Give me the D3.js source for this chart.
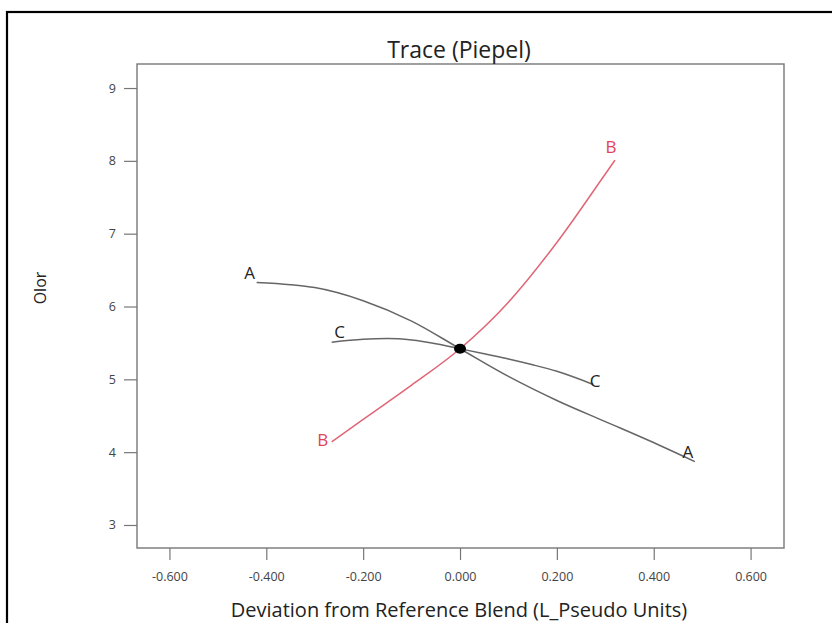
<!DOCTYPE html>
<html>
<head>
<meta charset="utf-8">
<script src="https://cdn.jsdelivr.net/npm/d3@7"></script>
<style>
  html, body { margin: 0; padding: 0; background: #fff; }
  svg { display: block; font-family: "Open Sans", "Noto Sans", sans-serif; }
</style>
</head>
<body>
<svg id="chart" width="832" height="623"></svg>
<script>
// Trace plot: response (Olor) vs deviation from reference blend
const xTicks = [-0.6, -0.4, -0.2, 0.0, 0.2, 0.4, 0.6];
const xTickLabels = ["-0.600", "-0.400", "-0.200", "0.000", "0.200", "0.400", "0.600"];
const yTicks = [3, 4, 5, 6, 7, 8, 9];

const traceA_x = [-0.42, -0.35, -0.3, -0.2, -0.1, 0.0, 0.1, 0.2, 0.3, 0.39, 0.485];
const traceA_y = [6.33, 6.30, 6.26, 6.08, 5.80, 5.42, 5.04, 4.71, 4.42, 4.16, 3.87];

const traceB_x = [-0.265, -0.2, -0.1, 0.0, 0.1, 0.2, 0.3, 0.32];
const traceB_y = [4.14, 4.45, 4.92, 5.42, 6.06, 6.88, 7.82, 8.01];

const traceC_x = [-0.265, -0.2, -0.15, -0.1, -0.05, 0.0, 0.05, 0.1, 0.15, 0.2, 0.275];
const traceC_y = [5.51, 5.55, 5.56, 5.54, 5.49, 5.42, 5.35, 5.28, 5.20, 5.11, 4.93];

const refPoint = { x: 0.0, y: 5.42 };

const svg = d3.select("#chart");

// outer frame (runs past the right and bottom edges)
svg.append("rect")
  .attr("x", 7).attr("y", 12)
  .attr("width", 840).attr("height", 640)
  .attr("fill", "none").attr("stroke", "#000").attr("stroke-width", 2.2);

const plot = { left: 137, right: 784, top: 64, bottom: 548 };

const x = d3.scaleLinear().domain([-0.667, 0.669]).range([plot.left, plot.right]);
const y = d3.scaleLinear().domain([2.684, 9.33]).range([plot.bottom, plot.top]);

// plot box
svg.append("rect")
  .attr("x", plot.left).attr("y", plot.top)
  .attr("width", plot.right - plot.left).attr("height", plot.bottom - plot.top)
  .attr("fill", "none").attr("stroke", "#777").attr("stroke-width", 1.4);

// axes
const xAxis = d3.axisBottom(x).tickValues(xTicks)
  .tickFormat((d, i) => xTickLabels[i]).tickSize(12).tickPadding(12).tickSizeOuter(0);
const gx = svg.append("g").attr("transform", `translate(0,${plot.bottom})`).call(xAxis);
gx.select(".domain").remove();
gx.selectAll(".tick line").attr("stroke", "#777").attr("stroke-width", 1.2);
gx.selectAll(".tick text").attr("fill", "#444").attr("font-size", 12.5)
  .attr("font-family", "Open Sans, sans-serif");

const yAxis = d3.axisLeft(y).tickValues(yTicks).tickFormat(d3.format("d"))
  .tickSize(13).tickPadding(8).tickSizeOuter(0);
const gy = svg.append("g").attr("transform", `translate(${plot.left},0)`).call(yAxis);
gy.select(".domain").remove();
gy.selectAll(".tick line").attr("stroke", "#777").attr("stroke-width", 1.2);
gy.selectAll(".tick text").attr("fill", "#444").attr("font-size", 12.5)
  .attr("font-family", "Open Sans, sans-serif");

// titles
svg.append("text").attr("x", 459).attr("y", 58)
  .attr("text-anchor", "middle").attr("font-size", 23).attr("fill", "#222")
  .text("Trace (Piepel)");
svg.append("text").attr("x", 459).attr("y", 617)
  .attr("text-anchor", "middle").attr("font-size", 20).attr("fill", "#222")
  .text("Deviation from Reference Blend (L_Pseudo Units)");
svg.append("text")
  .attr("transform", "translate(46,288) rotate(-90)")
  .attr("text-anchor", "middle").attr("font-size", 16).attr("fill", "#222")
  .text("Olor");

const line = d3.line().x(d => x(d[0])).y(d => y(d[1])).curve(d3.curveMonotoneX);

// label offsets (px) at the start and end of each trace
const traces = [
  { name: "A", xs: traceA_x, ys: traceA_y, color: "#666", label: "#222",
    start: [-7, -3], end: [-7, -4] },
  { name: "C", xs: traceC_x, ys: traceC_y, color: "#666", label: "#222",
    start: [8, -4], end: [2, 3] },
  { name: "B", xs: traceB_x, ys: traceB_y, color: "#e06676", label: "#e2415a",
    start: [-9, 4], end: [-4, -7] }
];

traces.forEach(t => {
  const pts = t.xs.map((v, i) => [v, t.ys[i]]);
  svg.append("path").datum(pts)
    .attr("d", line).attr("fill", "none")
    .attr("stroke", t.color).attr("stroke-width", 1.5);
  const first = pts[0], last = pts[pts.length - 1];
  svg.append("text")
    .attr("x", x(first[0]) + t.start[0]).attr("y", y(first[1]) + t.start[1])
    .attr("text-anchor", "middle").attr("font-size", 17)
    .attr("fill", t.label).text(t.name);
  svg.append("text")
    .attr("x", x(last[0]) + t.end[0]).attr("y", y(last[1]) + t.end[1])
    .attr("text-anchor", "middle").attr("font-size", 17)
    .attr("fill", t.label).text(t.name);
});

// reference blend point
svg.append("ellipse")
  .attr("cx", x(refPoint.x)).attr("cy", y(refPoint.y))
  .attr("rx", 6).attr("ry", 5).attr("fill", "#000");
</script>
</body>
</html>
